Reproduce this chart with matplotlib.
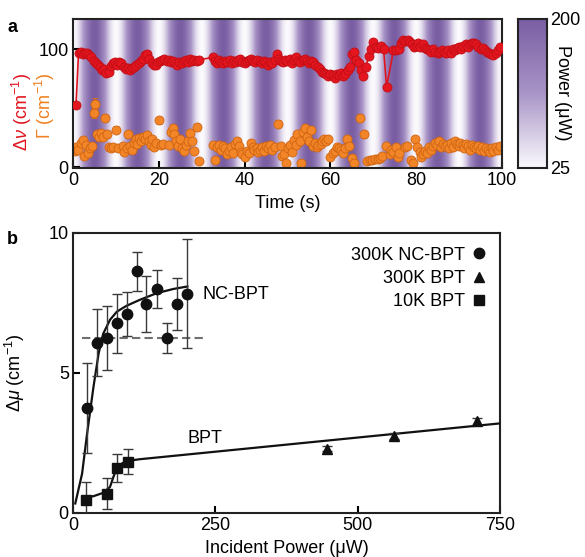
import numpy as np
import matplotlib
matplotlib.use('Agg')
import matplotlib.pyplot as plt
from matplotlib.colors import LinearSegmentedColormap
from matplotlib.lines import Line2D

plt.rcParams['font.family'] = ['Liberation Sans', 'DejaVu Sans']
plt.rcParams['mathtext.fontset'] = 'custom'
plt.rcParams['mathtext.rm'] = 'Liberation Sans'
plt.rcParams['mathtext.it'] = 'Liberation Sans:italic'
plt.rcParams['font.size'] = 13

# --- (a) time trace under modulated excitation ---
shift_t = [0.7, 1.3, 1.8, 2.3, 2.8, 3.3, 3.8, 4.3, 4.8, 5.3, 5.8, 6.3, 6.8, 7.3, 7.8, 8.3, 8.8, 9.3, 9.8,
           10.3, 10.8, 11.3, 11.8, 12.3, 12.8, 13.3, 13.8, 14.3, 14.8, 15.3, 15.8, 16.3, 16.8, 17.3, 17.8,
           18.3, 18.8, 19.3, 19.8, 20.3, 20.8, 21.3, 21.8, 22.3, 22.8, 23.3, 23.8, 24.3, 24.8, 25.3, 25.8,
           26.3, 26.8, 27.3, 27.8, 28.3, 28.8, 29.4,
           32.6, 33.0, 33.5, 34.0, 34.5, 35.0, 35.5, 36.0, 36.5, 37.0, 37.5, 38.0, 38.5, 39.0, 39.5, 40.0,
           40.5, 41.0, 41.5, 42.0, 42.5, 43.0, 43.5, 44.0, 44.5, 45.0, 45.5, 46.0, 46.5, 47.0, 47.5, 48.0,
           48.5, 49.0, 49.5, 50.0, 50.5, 51.0, 51.5, 52.0, 52.5, 53.0, 53.5, 54.0, 54.5, 55.0, 55.5, 56.0,
           56.5, 57.0, 57.5, 58.0, 58.5, 59.0, 59.5, 60.0, 60.5, 61.0, 61.5, 62.0, 62.5, 63.0, 63.5, 64.0,
           64.5, 65.0, 65.5, 66.0, 66.6, 67.2, 67.7, 68.3, 68.9, 69.5, 70.0, 70.6, 71.2, 71.8, 72.4, 73.1,
           74.7, 75.3, 75.9, 76.5, 77.0, 77.5, 78.0, 78.5, 79.0, 79.5, 80.0, 80.5, 81.0, 81.5, 82.0, 82.5,
           83.0, 83.5, 84.0, 84.5, 85.0, 85.5, 86.0, 86.5, 87.0, 87.5, 88.0, 88.5, 89.0, 89.5, 90.0, 90.5,
           91.0, 91.5, 92.0, 92.5, 93.0, 93.5, 94.0, 94.5, 95.0, 95.5, 96.0, 96.5, 97.0, 97.5, 98.0, 98.5,
           99.0, 99.5]
shift_val = [53, 97, 98, 96, 97, 97, 95, 93, 90, 88, 87, 85, 82, 83, 80, 81, 86, 88, 89,
             87, 89, 88, 85, 83, 84, 82, 84, 85, 87, 88, 90, 92, 95, 96, 92,
             88, 87, 87, 89, 90, 91, 92, 90, 91, 89, 90, 88, 87, 89, 88, 90,
             91, 89, 92, 90, 91, 90, 91,
             93, 90, 88, 91, 89, 88, 90, 89, 91, 88, 90, 89, 91, 92, 89, 88,
             90, 91, 92, 90, 89, 91, 90, 88, 90, 89, 87, 89, 88, 91, 96, 92,
             90, 89, 91, 90, 92, 88, 91, 93, 90, 89, 91, 92, 90, 88, 90, 89,
             87, 85, 83, 81, 80, 79, 77, 79, 78, 76, 79, 78, 80, 77, 79, 82,
             85, 96, 98, 91, 88, 82, 77, 85, 94, 100, 106, 102, 101, 103, 100, 68,
             99, 99, 100, 105, 108, 107, 108, 106, 104, 102, 103, 105, 102, 104, 101, 100,
             99, 98, 100, 98, 97, 98, 99, 98, 97, 99, 97, 100, 99, 101, 102, 100,
             103, 104, 102, 104, 105, 105, 104, 102, 100, 101, 99, 98, 97, 96, 95, 97,
             99, 102]

width_t = [0.4, 0.8, 1.2, 1.8, 2.3, 2.6, 3.0, 3.5, 3.9, 4.4, 4.8, 5.2, 5.7, 6.1, 6.5, 7.0, 7.4, 7.9,
           8.3, 8.8, 9.3, 10.1, 10.6, 11.6, 12.0, 12.5, 12.9, 13.4, 13.8, 14.2, 14.6, 15.0, 15.4, 15.8,
           16.3, 16.7, 17.2, 17.6, 18.1, 18.5, 18.9, 19.4, 20.0, 20.4, 20.9, 22.3, 22.8, 23.2, 23.6, 24.1,
           24.5, 24.9, 25.4, 25.8, 26.3, 26.8, 27.3, 27.7, 28.1, 28.8, 29.4,
           32.7, 33.1, 33.6, 34.0, 34.5, 35.0, 35.4, 35.8, 36.3, 36.8, 37.2, 37.7, 38.2, 38.6, 39.1, 39.5,
           40.1, 40.5, 41.0, 41.4, 41.9, 42.3, 42.8, 43.2, 43.7, 44.1, 44.6, 45.0, 45.5, 46.0, 46.4, 47.0,
           47.9, 48.4, 48.8, 49.3, 49.7, 50.2, 50.6, 51.1, 51.5, 51.9, 52.3, 52.8, 53.2, 53.6, 54.1, 54.5,
           55.0, 55.5, 55.9, 56.3, 56.8, 57.2, 57.7, 58.1, 58.6, 59.0, 59.5, 60.0, 60.6, 61.0, 61.5, 62.0,
           62.5, 63.0, 63.5, 63.9, 64.4, 65.0, 65.5, 67.0, 67.8, 68.6, 69.2, 69.8, 70.4, 71.0, 71.6, 72.1,
           73.0, 73.8, 74.2, 74.7, 75.2, 75.7, 76.1, 77.3, 77.8, 78.9, 79.3, 79.7, 80.3, 80.8, 81.2, 81.7,
           82.1, 82.6, 83.0, 83.5, 84.0, 84.4, 84.9, 85.3, 85.8, 86.2, 86.7, 87.1, 87.6, 88.0, 88.5, 89.0,
           89.4, 89.9, 90.3, 90.8, 91.2, 91.7, 92.1, 92.6, 93.0, 93.5, 93.9, 94.4, 94.9, 95.3, 95.8, 96.2,
           96.7, 97.1, 97.6, 98.0, 98.5, 99.0, 99.5]
width_val = [14, 17, 15, 21, 23, 10, 19, 12, 16, 18, 46, 54, 28, 26, 29, 26, 42, 28,
             17, 16, 17, 32, 16, 18, 13, 16, 28, 18, 15, 21, 24, 20, 25, 22,
             26, 24, 27, 22, 19, 24, 17, 21, 40, 19, 20, 19, 30, 33, 28, 22,
             18, 24, 16, 14, 19, 22, 29, 22, 14, 34, 5,
             19, 6, 17, 19, 15, 18, 16, 11, 14, 17, 12, 20, 22, 18, 13, 11,
             9, 14, 12, 21, 17, 15, 16, 13, 15, 17, 14, 18, 16, 19, 15, 17,
             37, 18, 10, 11, 4, 16, 19, 13, 23, 19, 28, 22, 4, 30, 33, 26,
             22, 32, 18, 21, 17, 19, 20, 22, 24, 22, 24, 9, 12, 14, 17, 16,
             15, 12, 16, 24, 18, 8, 4, 42, 28, 5, 6, 6, 7, 7, 8, 10,
             18, 11, 15, 13, 17, 9, 12, 17, 18, 6, 4, 24, 17, 13, 9, 11,
             14, 12, 17, 15, 18, 21, 19, 22, 17, 20, 18, 19, 16, 21, 17, 22,
             20, 18, 21, 19, 16, 20, 18, 15, 19, 17, 16, 18, 15, 17, 14, 16,
             15, 13, 16, 14, 17, 15, 18]
width_err = [1.5] * len(width_val)
for i, v in enumerate(width_val):
    if v >= 28:
        width_err[i] = 3.0 if v < 45 else 4.5

# excitation power swings between these limits every 10 s
power_min, power_max, power_period = 25, 200, 10.0

# --- (b) power dependence ---
nc_power = [24, 42, 60, 77, 94, 112, 128, 147, 165, 182, 201]
nc_shift = [3.74, 6.08, 6.25, 6.78, 7.11, 8.63, 7.46, 8.0, 6.24, 7.47, 7.83]
nc_err = [1.6, 1.2, 1.15, 1.05, 0.8, 0.7, 1.0, 0.67, 0.53, 0.93, 1.95]

bpt300_power = [447, 564, 709]
bpt300_shift = [2.30, 2.75, 3.28]
bpt300_err = [0.1, 0.1, 0.12]

bpt10_power = [23, 59, 77, 96]
bpt10_shift = [0.45, 0.69, 1.62, 1.83]
bpt10_err = [0.64, 0.55, 0.5, 0.45]

nc_fit_x = [4, 16, 24, 36, 45, 53, 65, 77, 94, 117, 147, 176, 201]
nc_fit_y = [0.34, 1.41, 2.72, 4.51, 5.7, 6.4, 6.9, 7.19, 7.4, 7.61, 7.85, 8.0, 8.09]
bpt_fit_x = [16, 36, 53, 65, 71, 77, 86, 96, 117, 750]
bpt_fit_y = [0.55, 0.6, 0.72, 0.93, 1.29, 1.59, 1.77, 1.86, 1.92, 3.2]
nc_level = 6.25

cmap = LinearSegmentedColormap.from_list('power', ['#fbfafd', '#a995c7', '#7a5ea3'])
spine_col = '#222222'

fig = plt.figure(figsize=(5.85, 5.57), dpi=100)
ax_a = fig.add_axes([0.1248, 0.6984, 0.7333, 0.2675])
cax = fig.add_axes([0.8855, 0.6984, 0.0496, 0.2675])
ax_b = fig.add_axes([0.1248, 0.0790, 0.7299, 0.5027])

# striped background = excitation power
tt = np.linspace(0, 100, 1200)
pw = (power_min + power_max) / 2 - (power_max - power_min) / 2 * np.cos(2 * np.pi * tt / power_period)
ax_a.imshow(pw[np.newaxis, :], extent=[0, 100, -0.5, 125.5], aspect='auto', cmap=cmap,
            vmin=power_min, vmax=power_max, zorder=0, interpolation='bilinear')

ax_a.errorbar(width_t, width_val, yerr=width_err, fmt='o', ms=6.5, mfc='#f28527', mec='#cf6412',
              mew=0.6, ecolor='#e57418', elinewidth=1.0, capsize=2, zorder=2)
# split the shift trace where the acquisition paused
gap = shift_t.index(32.6)
ax_a.plot(shift_t[:gap], shift_val[:gap], '-', color='#e0141e', lw=1.2, zorder=3)
ax_a.plot(shift_t[gap - 1:gap + 1], shift_val[gap - 1:gap + 1], '-', color='#e0141e', lw=1.2, zorder=3)
ax_a.plot(shift_t[gap:], shift_val[gap:], '-', color='#e0141e', lw=1.2, zorder=3)
ax_a.plot(shift_t, shift_val, 'o', ms=6.5, mfc='#e3161f', mec='#c20d15', mew=0.6, zorder=4)

ax_a.set_xlim(0, 100)
ax_a.set_ylim(-0.5, 125.5)
ax_a.set_xticks([0, 20, 40, 60, 80, 100])
ax_a.set_yticks([0, 50, 100])
ax_a.set_yticklabels(['0', '', '100'])
ax_a.set_xlabel('Time (s)', labelpad=4)

# colour bar for power
grad = np.linspace(power_min, power_max, 256)[:, np.newaxis]
cax.imshow(grad, extent=[0, 1, power_min, power_max], origin='lower', aspect='auto', cmap=cmap,
           vmin=power_min, vmax=power_max)
cax.set_xticks([])
cax.set_yticks([power_min, power_max])
cax.yaxis.tick_right()
cax.tick_params(axis='y', length=0, pad=2)
for s in cax.spines.values():
    s.set_linewidth(1.5)
    s.set_color(spine_col)
fig.text(563 / 585, 1 - 93 / 557, 'Power (μW)', rotation=270, ha='center', va='center')

fig.text(22 / 585, 1 - 112 / 557, r'$\Delta\nu$ (cm$^{-1}$)', color='#e0141e', rotation=90,
         ha='center', va='center')
fig.text(45 / 585, 1 - 106 / 557, r'$\Gamma$ (cm$^{-1}$)', color='#f08020', rotation=90,
         ha='center', va='center')

# --- panel b ---
ax_b.plot(nc_fit_x, nc_fit_y, '-', color='#111111', lw=1.6, zorder=3)
ax_b.plot(bpt_fit_x, bpt_fit_y, '-', color='#111111', lw=1.6, zorder=3)
ax_b.plot([16, 231], [nc_level, nc_level], '--', color='#707070', lw=1.5, dashes=(4, 2), zorder=2)

eb_kw = dict(ecolor='#3a3a3a', elinewidth=1.0, capsize=3.5, capthick=1.0, color='#111111', ls='none', zorder=4)
ax_b.errorbar(nc_power, nc_shift, yerr=nc_err, marker='o', ms=7.5, **eb_kw)
ax_b.errorbar(bpt300_power, bpt300_shift, yerr=bpt300_err, marker='^', ms=7.5, **eb_kw)
ax_b.errorbar(bpt10_power, bpt10_shift, yerr=bpt10_err, marker='s', ms=7, **eb_kw)

ax_b.text(227, 7.8, 'NC-BPT', ha='left', va='center')
ax_b.text(201, 2.67, 'BPT', ha='left', va='center')

handles = [Line2D([], [], ls='none', marker='o', ms=7.5, color='#111111'),
           Line2D([], [], ls='none', marker='^', ms=7.5, color='#111111'),
           Line2D([], [], ls='none', marker='s', ms=7, color='#111111')]
ax_b.legend(handles, ['300K NC-BPT', '300K BPT', '10K BPT'], loc='upper right', frameon=False,
            markerfirst=False, handlelength=0.8, handletextpad=0.4, labelspacing=0.35,
            borderaxespad=0.35, fontsize=13)

ax_b.set_xlim(0, 750)
ax_b.set_ylim(0, 10)
ax_b.set_xticks([0, 250, 500, 750])
ax_b.set_yticks([0, 5, 10])
ax_b.set_xlabel('Incident Power (μW)', labelpad=4)
ax_b.set_ylabel(r'$\Delta\mu$ (cm$^{-1}$)')
ax_b.yaxis.set_label_coords(-0.108, 0.5)

for ax in (ax_a, ax_b):
    ax.tick_params(direction='in', length=5, width=1.5, top=False, right=False, pad=3)
    for s in ax.spines.values():
        s.set_linewidth(1.5)
        s.set_color(spine_col)

fig.text(12 / 585, 1 - 27 / 557, 'a', fontweight='bold', ha='center', va='center')
fig.text(12 / 585, 1 - 239 / 557, 'b', fontweight='bold', ha='center', va='center')

fig.savefig('out.png', dpi=100)
